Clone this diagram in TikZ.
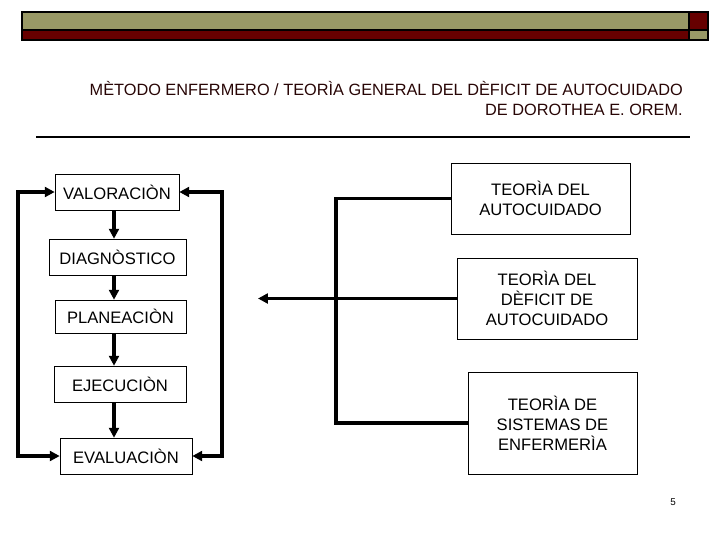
\documentclass[tikz,border=0pt]{standalone}
\usepackage{fontspec}
\setmainfont{Liberation Sans}
\usetikzlibrary{arrows.meta}
\definecolor{barolive}{RGB}{153,153,102}
\definecolor{barred}{RGB}{102,0,0}
\definecolor{titletext}{RGB}{40,5,5}

\begin{document}
\begin{tikzpicture}[x=0.025cm, y=-0.025cm,
    >={Triangle[length=7pt,width=7pt]},
    stepbox/.style={draw, thin, fill=white, inner sep=0pt, font=\fontsize{11.8}{14.2}\selectfont},
    theorybox/.style={stepbox, align=center},
    flow/.style={line width=2.8pt}]
    \useasboundingbox (0,0) rectangle (720,540);
    % Header bar
    \filldraw[fill=barolive, line width=1pt] (22,12) rectangle (689,30);
    \filldraw[fill=barred, line width=1pt] (22,30) rectangle (689,40);
    \filldraw[fill=barred, line width=1pt] (689,12) rectangle (708,30);
    \filldraw[fill=barolive, line width=1pt] (689,30) rectangle (708,40);
    % Title
    \node[anchor=north east, align=right, inner sep=0pt, text=titletext,
          font=\fontsize{11.6}{14.2}\selectfont] (title) at (683,81)
        {MÈTODO ENFERMERO / TEORÌA GENERAL DEL DÈFICIT DE AUTOCUIDADO\\
         DE DOROTHEA E. OREM.};
    \draw[line width=1.6pt] (36,137) -- (690,137);
    % Nursing process
    \node[stepbox, minimum width=3.1cm, minimum height=0.9cm] (val) at (117,192) {VALORACIÒN};
    \node[stepbox, minimum width=3.425cm, minimum height=0.9cm] (diag) at (117.5,257) {DIAGNÒSTICO};
    \node[stepbox, minimum width=3.275cm, minimum height=0.825cm] (plan) at (120.5,316.5) {PLANEACIÒN};
    \node[stepbox, minimum width=3.3cm, minimum height=0.9cm] (ejec) at (120,384) {EJECUCIÒN};
    \node[stepbox, minimum width=3.3cm, minimum height=0.9cm] (eval) at (126,456) {EVALUACIÒN};
    \coordinate (spine) at (114,0);
    \foreach \a/\b in {val/diag, diag/plan, plan/ejec, ejec/eval}
        \draw[flow, ->] (\a.south -| spine) -- (\b.north -| spine);
    % Feedback loops
    \coordinate (leftloop) at (18,0);
    \coordinate (rightloop) at (222,0);
    \draw[flow, <->] (val.west) -- (val.west -| leftloop) -- (eval.west -| leftloop) -- (eval.west);
    \draw[flow, <->] (val.east) -- (val.east -| rightloop) -- (eval.east -| rightloop) -- (eval.east);
    % Theories
    \node[theorybox, minimum width=4.475cm, minimum height=1.775cm] (auto) at (540.5,198.5)
        {TEORÌA DEL\\AUTOCUIDADO};
    \node[theorybox, minimum width=4.5cm, minimum height=2.025cm] (defic) at (547,298.5)
        {TEORÌA DEL\\DÈFICIT DE\\AUTOCUIDADO};
    \node[theorybox, minimum width=4.225cm, minimum height=2.55cm] (sist) at (552.5,423)
        {TEORÌA DE\\SISTEMAS DE\\ENFERMERÌA};
    \coordinate (bus) at (336,0);
    \coordinate (outlet) at (258,0);
    \draw[flow] (auto.west) -- (auto.west -| bus) -- (sist.west -| bus) -- (sist.west);
    \draw[flow, ->] (defic.west) -- (defic.west -| outlet);
    % Page number
    \node[font=\fontsize{7}{8}\selectfont, inner sep=0pt] (page) at (673,502) {5};
\end{tikzpicture}
\end{document}
